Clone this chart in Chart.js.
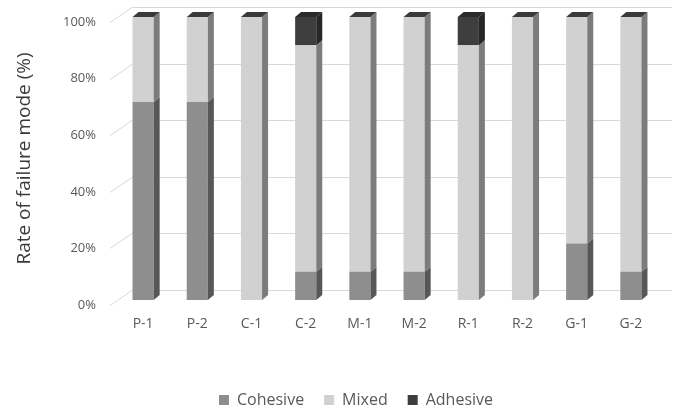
<!DOCTYPE html>
<html>
<head>
<meta charset="utf-8">
<script src="https://cdn.jsdelivr.net/npm/chart.js@4.4.1/dist/chart.umd.min.js"></script>
<style>
  html, body { margin: 0; padding: 0; background: #fff; }
  #wrap { width: 674px; height: 410px; }
</style>
</head>
<body>
<div id="wrap"><canvas id="c"></canvas></div>
<script>
const categories = ['P-1', 'P-2', 'C-1', 'C-2', 'M-1', 'M-2', 'R-1', 'R-2', 'G-1', 'G-2'];
const cohesive = [70, 70, 0, 10, 10, 10, 0, 0, 20, 10];
const mixed    = [30, 30, 100, 80, 90, 90, 90, 100, 80, 90];
const adhesive = [0, 0, 0, 10, 0, 0, 10, 0, 0, 0];
const yTicks = [0, 20, 40, 60, 80, 100];

// front / side colours per series
const fronts = ['#8e8e8e', '#d1d1d1', '#3e3e3e'];
const sides  = ['#575757', '#7c7c7c', '#262626'];
const topCap = ['#4a4a4a', '#3a3a3a', '#2a2a2a'];
const DX = 6, DY = 5;

// back wall gridlines, drawn behind the bars
const wallGrid = {
  id: 'wallGrid',
  beforeDatasetsDraw(chart) {
    const ctx = chart.ctx, y = chart.scales.y, a = chart.chartArea;
    ctx.save();
    ctx.strokeStyle = '#d9d9d9';
    ctx.lineWidth = 1;
    yTicks.forEach(v => {
      const py = Math.round(y.getPixelForValue(v)) + 0.5;
      ctx.beginPath();
      ctx.moveTo(a.left - 6, py + 5);
      ctx.lineTo(a.left + 16, py - 10);
      ctx.lineTo(chart.width - 2, py - 10);
      ctx.stroke();
    });
    ctx.restore();
  }
};

// side and top faces for the fake 3d look
const bar3d = {
  id: 'bar3d',
  afterDatasetsDraw(chart) {
    const ctx = chart.ctx;
    const n = chart.data.labels.length;
    ctx.save();
    for (let i = 0; i < n; i++) {
      let topMost = -1;
      chart.data.datasets.forEach((ds, d) => {
        const el = chart.getDatasetMeta(d).data[i];
        if (!ds.data[i]) return;
        topMost = d;
        const r = el.x + el.width / 2;
        ctx.fillStyle = sides[d];
        ctx.beginPath();
        ctx.moveTo(r, el.y);
        ctx.lineTo(r + DX, el.y - DY);
        ctx.lineTo(r + DX, el.base - DY);
        ctx.lineTo(r, el.base);
        ctx.closePath();
        ctx.fill();
      });
      if (topMost >= 0) {
        const el = chart.getDatasetMeta(topMost).data[i];
        const l = el.x - el.width / 2, r = el.x + el.width / 2;
        ctx.fillStyle = topCap[topMost];
        ctx.beginPath();
        ctx.moveTo(l, el.y);
        ctx.lineTo(l + DX, el.y - DY);
        ctx.lineTo(r + DX, el.y - DY);
        ctx.lineTo(r, el.y);
        ctx.closePath();
        ctx.fill();
      }
    }
    ctx.restore();
  }
};

const font = "'Open Sans', 'Noto Sans', sans-serif";

new Chart(document.getElementById('c'), {
  type: 'bar',
  data: {
    labels: categories,
    datasets: [
      { label: 'Cohesive', data: cohesive, backgroundColor: fronts[0] },
      { label: 'Mixed', data: mixed, backgroundColor: fronts[1] },
      { label: 'Adhesive', data: adhesive, backgroundColor: fronts[2] }
    ]
  },
  options: {
    responsive: true,
    maintainAspectRatio: false,
    animation: false,
    barPercentage: 0.39,
    categoryPercentage: 1.0,
    layout: { padding: { left: 54, right: 16, top: 17, bottom: -8 } },
    scales: {
      x: {
        stacked: true,
        grid: { display: false, drawTicks: false },
        border: { display: false },
        ticks: { color: '#595959', font: { family: font, size: 14 }, padding: 16 },
        afterFit(s) { s.height = 72; }
      },
      y: {
        stacked: true,
        min: 0,
        max: 100,
        grid: { display: false, drawTicks: false },
        border: { display: false },
        afterBuildTicks(s) { s.ticks = yTicks.map(v => ({ value: v })); },
        ticks: {
          color: '#595959',
          font: { family: font, size: 13 },
          padding: 20,
          labelOffset: 5,
          callback: v => v + '%'
        },
        title: {
          display: true,
          text: 'Rate of failure mode (%)',
          color: '#3a3a3a',
          font: { family: font, size: 19 },
          padding: { top: -41, bottom: 0 }
        },
        afterFit(s) {
          s.width = 62;
          s.paddingTop = 0;
          s.paddingBottom = 0;
        }
      }
    },
    plugins: {
      legend: {
        position: 'bottom',
        labels: {
          color: '#595959',
          font: { family: font, size: 16 },
          boxWidth: 10,
          boxHeight: 10,
          padding: 20
        }
      },
      tooltip: { enabled: false }
    }
  },
  plugins: [wallGrid, bar3d]
});
</script>
</body>
</html>
